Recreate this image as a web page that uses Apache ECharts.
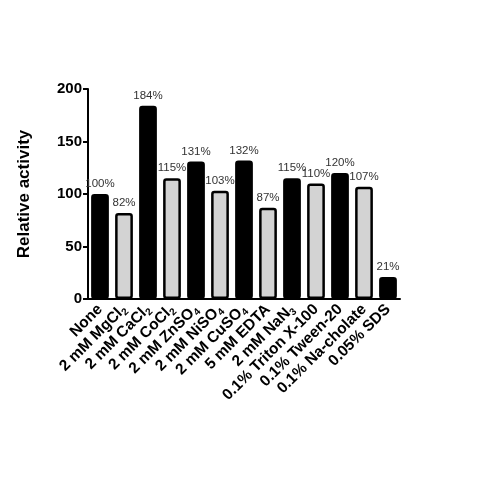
<!DOCTYPE html>
<html><head><meta charset="utf-8">
<script src="https://cdn.jsdelivr.net/npm/echarts@6/dist/echarts.min.js"></script>
<style>html,body{margin:0;padding:0;background:#fff}#c{width:480px;height:480px}</style>
</head><body><div id="c"></div>
<script>
const categories = ['None','2 mM MgCl_2','2 mM CaCl_2','2 mM CoCl_2','2 mM ZnSO_4','2 mM NiSO_4','2 mM CuSO_4','5 mM EDTA','2 mM NaN_3','0.1% Triton X-100','0.1% Tween-20','0.1% Na-cholate','0.05% SDS'];
const values = [100, 82, 184, 115, 131, 103, 132, 87, 115, 110, 120, 107, 21];
const fills = ['#000','#d3d3d3','#000','#d3d3d3','#000','#d3d3d3','#000','#d3d3d3','#000','#d3d3d3','#000','#d3d3d3','#000'];
const yTicks = [0, 50, 100, 150, 200];

const chart = echarts.init(document.getElementById('c'));
chart.setOption({
  animation: false,
  backgroundColor: '#fff',
  grid: {left: 88, top: 89, right: 80, bottom: 181, containLabel: false},
  xAxis: {
    type: 'category', data: categories,
    axisLine: {lineStyle: {color: '#000', width: 2}},
    axisTick: {show: false},
    axisLabel: {
      interval: 0, rotate: 45, margin: 8, color: '#000',
      fontFamily: 'Liberation Sans, Arial', fontWeight: 'bold', fontSize: 15.5,
      formatter: v => v.replace(/_(\d)/g, '{sub|$1}'),
      rich: {sub: {fontSize: 10, fontWeight: 'bold', fontFamily: 'Liberation Sans, Arial', color: '#000', padding: [9, 0, 0, 0]}}
    }
  },
  yAxis: {
    type: 'value', min: 0, max: 200, interval: 50,
    name: 'Relative activity', nameLocation: 'middle', nameGap: 55,
    nameTextStyle: {fontFamily: 'Liberation Sans, Arial', fontWeight: 'bold', fontSize: 17, color: '#000'},
    axisLine: {show: true, lineStyle: {color: '#000', width: 2}},
    axisTick: {show: true, length: 5, lineStyle: {color: '#000', width: 2}},
    splitLine: {show: false},
    axisLabel: {color: '#000', fontFamily: 'Liberation Sans, Arial', fontWeight: 'bold', fontSize: 15, margin: 6,
      formatter: v => yTicks.includes(v) ? String(v) : ''}
  },
  series: [{
    type: 'bar', barCategoryGap: '26%',
    data: values.map((v, i) => ({value: v, itemStyle: {color: fills[i]}})),
    itemStyle: {borderColor: '#000', borderWidth: 2.5, borderRadius: 2},
    label: {show: true, position: 'top', distance: 4, formatter: p => p.value + '%',
      color: '#333', fontFamily: 'Liberation Sans, Arial', fontSize: 11.5}
  }]
});
</script></body></html>
